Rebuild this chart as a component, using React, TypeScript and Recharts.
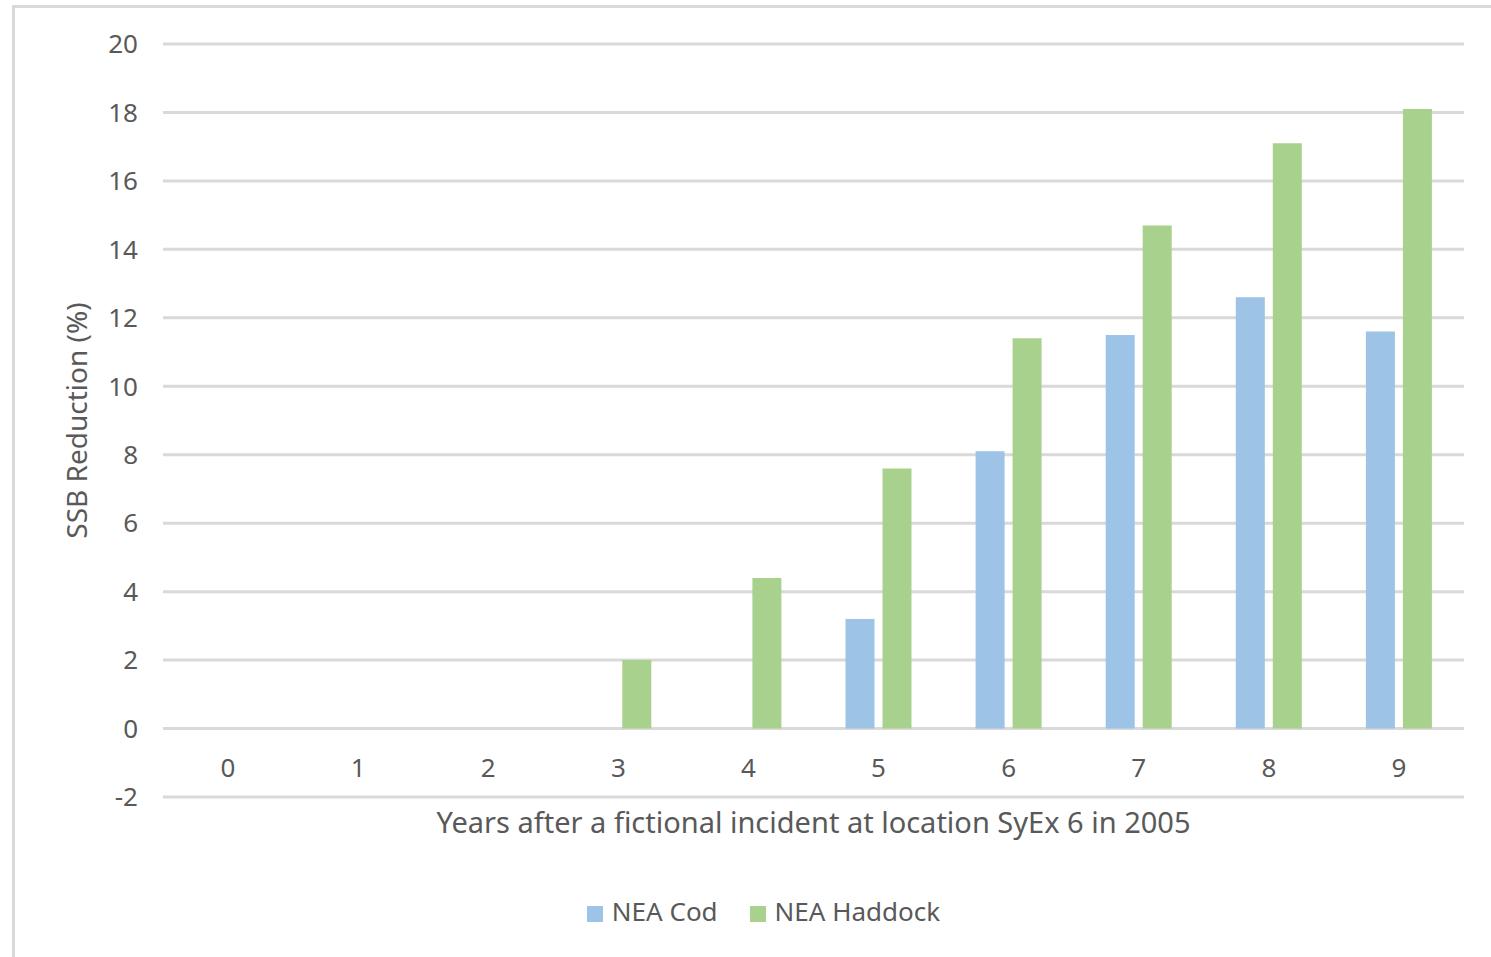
import { BarChart, Bar, XAxis, YAxis, CartesianGrid, Legend } from "recharts"

const years = ["0", "1", "2", "3", "4", "5", "6", "7", "8", "9"]
const neaCod = [0, 0, 0, 0, 0, 3.2, 8.1, 11.5, 12.6, 11.6]
const neaHaddock = [0, 0, 0, 2.0, 4.4, 7.6, 11.4, 14.7, 17.1, 18.1]
const yTicks = [-2, 0, 2, 4, 6, 8, 10, 12, 14, 16, 18, 20]

const data = years.map((year, i) => ({
  year,
  cod: neaCod[i],
  haddock: neaHaddock[i],
}))

const FONT = "'Noto Sans', sans-serif"
const TEXT = "#595959"
const GRID = "#d9d9d9"

// category labels sit just under the zero line, not under the plot floor
function YearTick({ x, y, payload }: any) {
  return (
    <text x={x} y={y - 28} textAnchor="middle" fontSize={26} fill={TEXT} fontFamily={FONT}>
      {payload.value}
    </text>
  )
}

export default function App() {
  return (
    <div style={{ position: "absolute", left: 0, top: 0, width: 1491, height: 957, background: "#fff" }}>
      <div style={{ position: "absolute", left: 12, top: 5, width: 3, height: 952, background: GRID }} />
      <div style={{ position: "absolute", left: 12, top: 5, width: 1479, height: 3, background: GRID }} />
      <BarChart
        width={1491}
        height={957}
        data={data}
        margin={{ top: 44, right: 27, bottom: 0, left: 0 }}
        barGap={8}
        barCategoryGap={32}
        style={{ position: "absolute", left: 0, top: 0 }}
      >
        <CartesianGrid vertical={false} stroke={GRID} strokeWidth={3} />
        <XAxis
          dataKey="year"
          axisLine={false}
          tickLine={false}
          height={124}
          tick={<YearTick />}
          interval={0}
          label={{
            value: "Years after a fictional incident at location SyEx 6 in 2005",
            position: "insideTop",
            offset: 15,
            fontSize: 29,
            fill: TEXT,
            fontFamily: FONT,
          }}
        />
        <YAxis
          domain={[-2, 20]}
          ticks={yTicks}
          interval={0}
          axisLine={false}
          tickLine={false}
          width={163}
          tickMargin={19}
          tick={{ fontSize: 26, fill: TEXT, fontFamily: FONT }}
          label={{
            value: "SSB Reduction (%)",
            angle: -90,
            position: "insideLeft",
            offset: 77,
            style: { textAnchor: "middle", fontSize: 28, fill: TEXT, fontFamily: FONT },
          }}
        />
        <Legend
          verticalAlign="bottom"
          align="center"
          iconType="square"
          iconSize={16}
          wrapperStyle={{ bottom: 28, left: 0, width: 1491, paddingLeft: 34, fontFamily: FONT, fontSize: 26 }}
          formatter={(value) => (
            <span style={{ color: TEXT, marginLeft: 5, marginRight: 22 }}>{value}</span>
          )}
        />
        <Bar dataKey="cod" name="NEA Cod" fill="#9dc3e6" isAnimationActive={false} />
        <Bar dataKey="haddock" name="NEA Haddock" fill="#a9d18e" isAnimationActive={false} />
      </BarChart>
    </div>
  )
}
